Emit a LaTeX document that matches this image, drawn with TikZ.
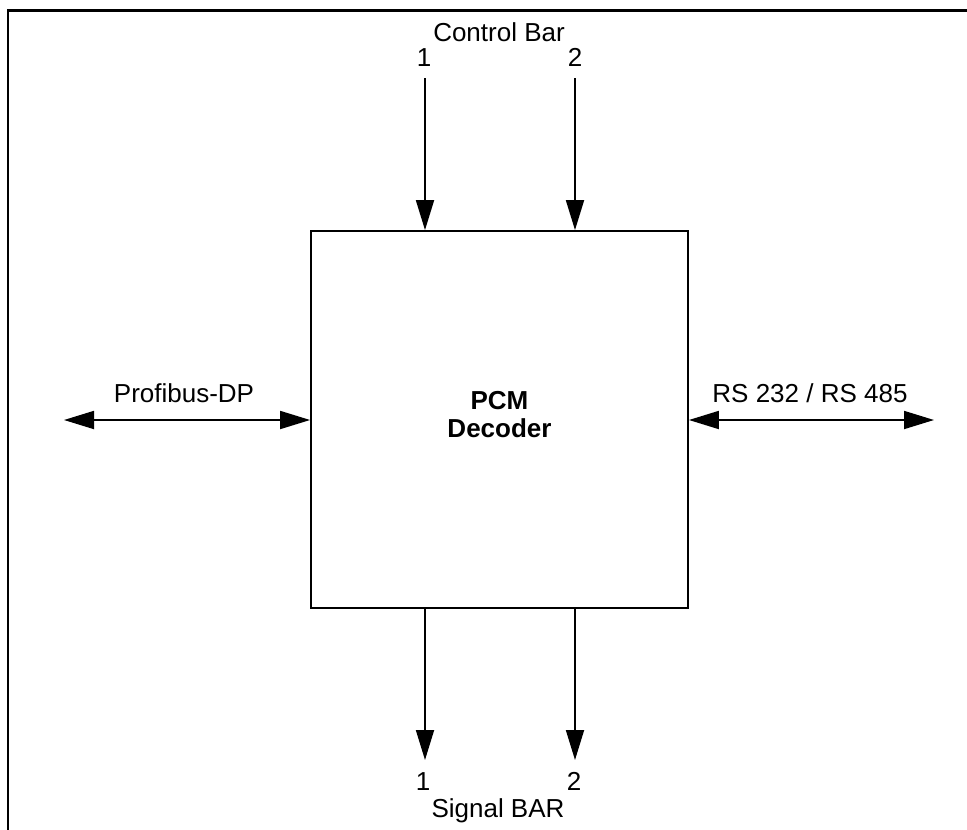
\documentclass[tikz,border=0pt]{standalone}
\usepackage{fontspec}
\setmainfont{Liberation Sans}
\usetikzlibrary{arrows.meta}
\begin{document}
\begin{tikzpicture}[x=1pt,y=-1pt,
  every node/.style={font=\fontsize{26}{30}\selectfont, inner sep=0pt},
  frameline/.style={line width=2.5pt},
  decbox/.style={draw, line width=1.8pt, minimum width=377pt, minimum height=377pt},
  dectext/.style={align=center, font=\fontsize{26}{28}\selectfont\bfseries},
  arr/.style={line width=1.8pt, -{Triangle[length=30pt,width=18pt]}},
  biarr/.style={line width=1.8pt, {Triangle[length=30pt,width=18pt]}-{Triangle[length=30pt,width=18pt]}},
  lbl/.style={anchor=base}]
\useasboundingbox (0,0) rectangle (967,830);
% outer frame: top and left edges only
\draw[frameline] (8,830) -- (8,10.5) -- (967,10.5);

% decoder block and its title
\node[decbox] (dec) at (499.5,419.5) {};
\node[dectext] (dectitle) at ([yshift=5pt]dec.center) {PCM\\Decoder};

% free ends of the connectors
\coordinate (cin1) at (425,78);
\coordinate (cin2) at (575,78);
\coordinate (sout1) at (425,760);
\coordinate (sout2) at (575,760);
\coordinate (pdp) at (64,420);
\coordinate (rs) at (934,420);

% control inputs
\draw[arr] (cin1) -- (cin1 |- dec.north);
\draw[arr] (cin2) -- (cin2 |- dec.north);
% signal outputs
\draw[arr] (sout1 |- dec.south) -- (sout1);
\draw[arr] (sout2 |- dec.south) -- (sout2);
% bidirectional buses
\draw[biarr] (pdp) -- (pdp -| dec.west);
\draw[biarr] (rs -| dec.east) -- (rs);

% labels
\node[lbl] (ctl) at (499,41.5) {Control Bar};
\node[lbl] (c1) at (424,66) {1};
\node[lbl] (c2) at (575,66) {2};
\node[lbl] (s1) at (423,790) {1};
\node[lbl] (s2) at (574,790) {2};
\node[lbl] (sig) at (498,817) {Signal BAR};
\node[lbl] (pdplbl) at (184,402) {Profibus-DP};
\node[lbl] (rslbl) at (810,402) {RS 232 / RS 485};
\end{tikzpicture}
\end{document}
